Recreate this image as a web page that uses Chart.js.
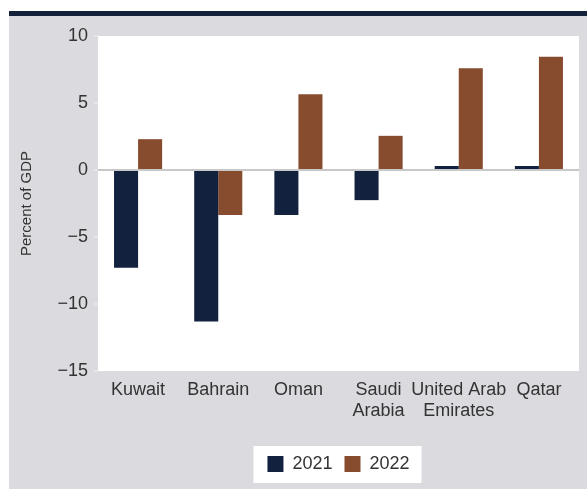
<!DOCTYPE html>
<html>
<head>
<meta charset="utf-8">
<script src="https://cdn.jsdelivr.net/npm/chart.js@4/dist/chart.umd.min.js"></script>
<style>
  html, body { margin: 0; padding: 0; background: #fff; overflow: hidden; }
  #topbar { position: absolute; left: 9px; top: 11px; width: 578px; height: 5px; background: #14213b; }
  #wrap { position: absolute; left: 9px; top: 16px; width: 578px; height: 473px; background: #dadadf; }
</style>
</head>
<body>
<div id="topbar"></div>
<div id="wrap"><canvas id="gdpChart"></canvas></div>
<script>
const countries = ['Kuwait', 'Bahrain', 'Oman', ['Saudi', 'Arabia'], ['United Arab', 'Emirates'], 'Qatar'];
const values2021 = [-7.3, -11.3, -3.35, -2.25, 0.3, 0.3];
const values2022 = [2.3, -3.35, 5.65, 2.55, 7.6, 8.45];
const yTicks = [10, 5, 0, -5, -10, -15];

const fontFamily = '"Liberation Sans", Arial, sans-serif';
const textColor = '#333333';

// gray panel, white plot area and white legend box
const backgroundPlugin = {
  id: 'panelBackground',
  beforeDraw(chart) {
    const c = chart.ctx;
    const a = chart.chartArea;
    c.save();
    c.fillStyle = '#dadadf';
    c.fillRect(0, 0, chart.width, chart.height);
    c.fillStyle = '#ffffff';
    c.fillRect(a.left, a.top, a.right - a.left, a.bottom - a.top);
    const boxes = chart.legend.legendHitBoxes;
    if (boxes && boxes.length) {
      const first = boxes[0];
      const last = boxes[boxes.length - 1];
      c.fillRect(first.left - 14, first.top - 9, last.left + last.width - first.left + 26, first.height + 19);
    }
    c.restore();
  }
};

const ctx = document.getElementById('gdpChart').getContext('2d');
new Chart(ctx, {
  type: 'bar',
  data: {
    labels: countries,
    datasets: [
      { label: '2021', data: values2021, backgroundColor: '#12223e' },
      { label: '2022', data: values2022, backgroundColor: '#874b2e' }
    ]
  },
  options: {
    responsive: true,
    maintainAspectRatio: false,
    animation: false,
    datasets: { bar: { categoryPercentage: 0.6, barPercentage: 1.0 } },
    layout: { padding: { left: 9, right: 8, top: 20, bottom: 6 } },
    plugins: {
      tooltip: { enabled: false },
      legend: {
        position: 'bottom',
        fullSize: false,
        labels: {
          boxWidth: 16,
          boxHeight: 16,
          padding: 12,
          color: textColor,
          font: { family: fontFamily, size: 18 }
        }
      }
    },
    scales: {
      x: {
        grid: { display: false },
        border: { display: false },
        ticks: {
          color: textColor,
          maxRotation: 0,
          autoSkip: false,
          padding: 0,
          font: { family: fontFamily, size: 18, lineHeight: 1.2 }
        },
        afterFit(scale) { scale.height = 72; }
      },
      y: {
        min: -15,
        max: 10,
        afterBuildTicks(scale) { scale.ticks = yTicks.map(v => ({ value: v })); },
        grid: {
          drawOnChartArea: true,
          color: c => (c.tick && c.tick.value === 0) ? '#c8c8c8' : 'rgba(0,0,0,0)',
          lineWidth: 2,
          tickColor: '#f2f2f2',
          tickWidth: 1,
          tickLength: 4
        },
        border: { display: false },
        ticks: {
          color: textColor,
          padding: 6,
          font: { family: fontFamily, size: 18 },
          callback: v => (v < 0 ? '\u2212' + Math.abs(v) : String(v))
        },
        title: {
          display: true,
          text: 'Percent of GDP',
          color: textColor,
          padding: { top: 0, bottom: 8 },
          font: { family: fontFamily, size: 15 }
        },
        afterFit(scale) { scale.width = 80; }
      }
    }
  },
  plugins: [backgroundPlugin]
});
</script>
</body>
</html>
